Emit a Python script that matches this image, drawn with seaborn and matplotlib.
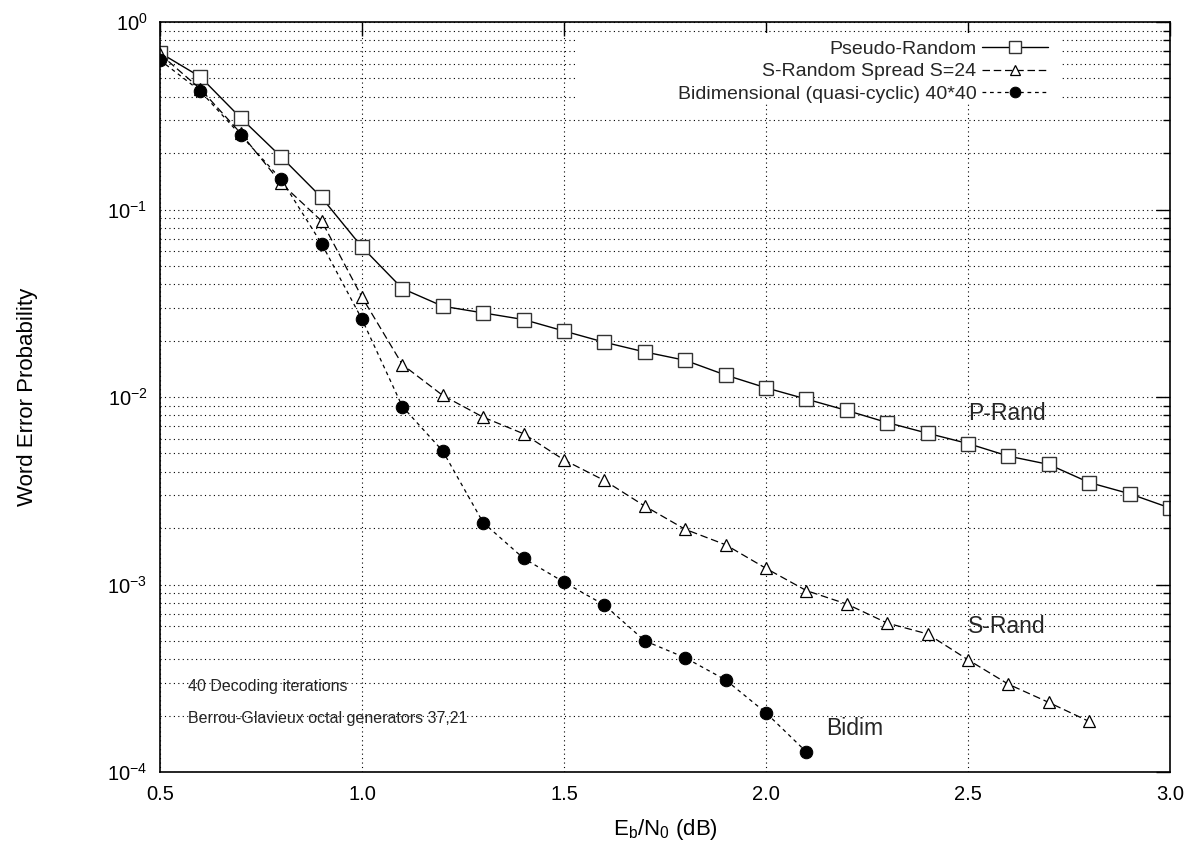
import numpy as np
import pandas as pd
import matplotlib
matplotlib.use("Agg")
import matplotlib.pyplot as plt
import seaborn as sns
from matplotlib.patches import Rectangle
from matplotlib.ticker import LogLocator, FixedLocator, NullFormatter

# Eb/N0 (dB) for each curve
ebno_prand = [0.5, 0.6, 0.7, 0.8, 0.9, 1.0, 1.1, 1.2, 1.3, 1.4, 1.5, 1.6, 1.7,
              1.8, 1.9, 2.0, 2.1, 2.2, 2.3, 2.4, 2.5, 2.6, 2.7, 2.8, 2.9, 3.0]
wer_prand = [0.686, 0.51, 0.308, 0.191, 0.116, 0.0631, 0.0379, 0.0305, 0.0281,
             0.0259, 0.0225, 0.0196, 0.0174, 0.0157, 0.0131, 0.0112, 0.00975,
             0.00848, 0.00731, 0.00641, 0.00565, 0.00484, 0.00437, 0.0035,
             0.00305, 0.00256]

ebno_srand = [0.5, 0.6, 0.7, 0.8, 0.9, 1.0, 1.1, 1.2, 1.3, 1.4, 1.5, 1.6, 1.7,
              1.8, 1.9, 2.0, 2.1, 2.2, 2.3, 2.4, 2.5, 2.6, 2.7, 2.8]
wer_srand = [0.675, 0.44, 0.255, 0.138, 0.087, 0.0341, 0.0149, 0.0102, 0.00781,
             0.00637, 0.00462, 0.00359, 0.00262, 0.00197, 0.00163, 0.00122,
             0.000928, 0.000787, 0.000623, 0.000545, 0.000397, 0.000294,
             0.000235, 0.000186]

ebno_bidim = [0.5, 0.6, 0.7, 0.8, 0.9, 1.0, 1.1, 1.2, 1.3, 1.4, 1.5, 1.6, 1.7,
              1.8, 1.9, 2.0, 2.1]
wer_bidim = [0.627, 0.428, 0.249, 0.145, 0.0658, 0.026, 0.0089, 0.00515,
             0.00214, 0.00138, 0.00103, 0.000778, 0.000501, 0.000407, 0.00031,
             0.000207, 0.000128]

labels = ["Pseudo-Random", "S-Random Spread S=24",
          "Bidimensional (quasi-cyclic) 40*40"]
x_ticks = [0.5, 1.0, 1.5, 2.0, 2.5, 3.0]

sns.set_theme(style="white")
plt.rcParams['font.family'] = ['Liberation Sans', 'DejaVu Sans']
plt.rcParams['mathtext.fontset'] = 'custom'
plt.rcParams['mathtext.rm'] = 'Liberation Sans'
plt.rcParams['mathtext.it'] = 'Liberation Sans'
plt.rcParams['axes.unicode_minus'] = False

fig = plt.figure(figsize=(11.99, 8.48), dpi=100)
ax = fig.add_axes([0.1334, 0.0896, 0.8424, 0.8844])

df_p = pd.DataFrame({'x': ebno_prand, 'y': wer_prand})
df_s = pd.DataFrame({'x': ebno_srand, 'y': wer_srand})
df_b = pd.DataFrame({'x': ebno_bidim, 'y': wer_bidim})

sns.lineplot(data=df_p, x='x', y='y', ax=ax, color='black', lw=1.0,
             marker='s', markersize=10, markerfacecolor='white',
             markeredgecolor='#333333', markeredgewidth=1.0, label=labels[0])
sns.lineplot(data=df_s, x='x', y='y', ax=ax, color='black', lw=0.9,
             dashes=(6, 3), marker='^', markersize=8, markerfacecolor='white',
             markeredgecolor='black', markeredgewidth=0.9, label=labels[1])
sns.lineplot(data=df_b, x='x', y='y', ax=ax, color='black', lw=0.9,
             dashes=(3, 3), marker='o', markersize=9, markerfacecolor='black',
             markeredgecolor='black', label=labels[2])

ax.set_yscale('log')
ax.set_xlim(0.5, 3.0)
ax.set_ylim(1e-4, 1.0)
ax.xaxis.set_major_locator(FixedLocator(x_ticks))
ax.set_xticklabels([f"{t:.1f}" for t in x_ticks])
ax.yaxis.set_major_locator(LogLocator(base=10, numticks=10))
ax.yaxis.set_minor_locator(LogLocator(base=10, subs=np.arange(2, 10), numticks=20))
ax.yaxis.set_minor_formatter(NullFormatter())

ax.grid(True, which='both', axis='y', linestyle=(0, (1, 3)), color='black', lw=0.8)
ax.grid(True, which='major', axis='x', linestyle=(0, (1, 3)), color='black', lw=0.8)
ax.set_axisbelow(True)

# gnuplot blanks the key area behind the legend
ax.add_patch(Rectangle((0.414, 0.892), 0.477, 0.093, transform=ax.transAxes,
                       facecolor='white', edgecolor='none', zorder=1))

ax.tick_params(which='both', direction='in', top=True, right=True,
               labelsize=14.5, colors='black')
ax.tick_params(which='major', length=10, width=1, pad=9)
ax.tick_params(which='minor', length=5, width=1)
for s in ax.spines.values():
    s.set_color('black')
    s.set_linewidth(1.2)

ax.set_xlabel(r"E$_\mathregular{b}$/N$_\mathregular{0}$ (dB)", fontsize=16,
              color='black', labelpad=10)
ax.set_ylabel("Word Error Probability", fontsize=16, color='black', labelpad=50)

leg = ax.legend(loc='upper right', bbox_to_anchor=(0.897, 0.999), markerfirst=False,
                frameon=False, fontsize=14, handlelength=3.4, markerscale=0.85,
                labelspacing=0.25, borderpad=0.4, handletextpad=0.3)

ax.text(2.5, 0.0082, "P-Rand", fontsize=16.5, va='center')
ax.text(2.5, 0.0006, "S-Rand", fontsize=16.5, va='center')
ax.text(2.15, 0.00017, "Bidim", fontsize=16.5, va='center')
ax.text(0.57, 0.000285, "40 Decoding iterations", fontsize=11.5, va='center')
ax.text(0.57, 0.000192, "Berrou-Glavieux octal generators 37,21", fontsize=11.5, va='center')

fig.savefig("out.png", dpi=100)
